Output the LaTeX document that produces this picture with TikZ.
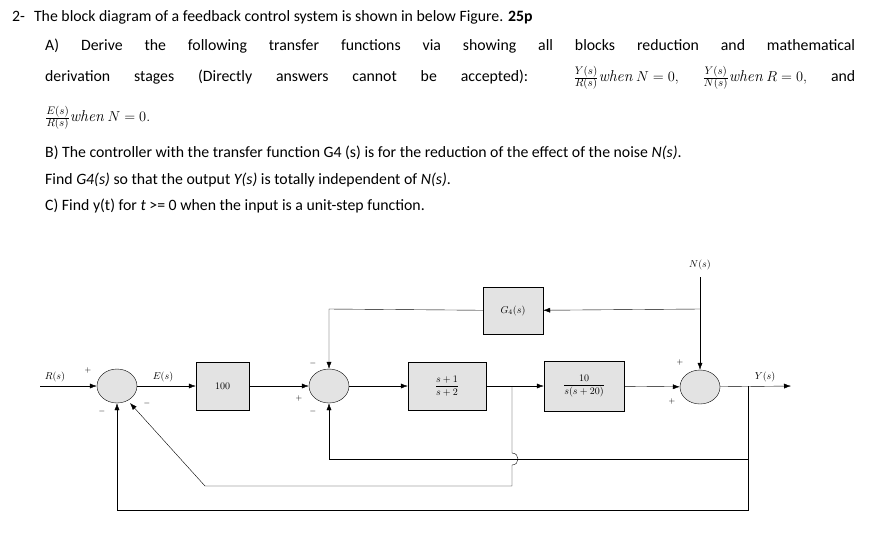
\documentclass[tikz,border=0pt]{standalone}
\usepackage{fontspec}
\setmainfont{Carlito}
\usetikzlibrary{arrows.meta,shapes.geometric}
\newcommand{\whn}{{\fontfamily{lmr}\selectfont\itshape when}}
\begin{document}
\begin{tikzpicture}[x=1pt,y=-1pt,
 blk/.style={draw,fill=gray!22,minimum width=#1,minimum height=48pt,inner sep=0pt},
 sum/.style={draw,ellipse,fill=gray!22,minimum width=40pt,minimum height=34pt,inner sep=0pt},
 lab/.style={font=\fontfamily{lmr}\selectfont\itshape\normalsize},
 sg/.style={font=\fontfamily{lmr}\selectfont\footnotesize},
 arr/.style={-{Latex[length=7pt,width=5pt]}},
 txt/.style={anchor=west,inner sep=0pt,font=\fontsize{15.8}{18}\selectfont}]
\useasboundingbox (0,0) rectangle (877,544);
% text
\node[txt] (t1) at (12,17) {2-\hspace{9pt}The block diagram of a feedback control system is shown in below Figure. \textbf{25p}};
\node[txt] (t2) at (45,46) {\makebox[810pt][s]{A) Derive the following transfer functions via showing all blocks reduction and mathematical}};
\node[txt] (t3) at (45,78) {\makebox[810pt][s]{derivation stages (Directly answers cannot be accepted): \mbox{$\frac{Y(s)}{R(s)}$\whn\ $N=0,$} \mbox{$\frac{Y(s)}{N(s)}$\whn\ $R=0,$} and}};
\node[txt] (t4) at (45,118) {\mbox{$\frac{E(s)}{R(s)}$\whn\ $N=0.$}};
\node[txt] (t5) at (45,153) {B) The controller with the transfer function G4 (s) is for the reduction of the effect of the noise \textit{N(s)}.};
\node[txt] (t6) at (45,180) {Find \textit{G4(s)} so that the output \textit{Y(s)} is totally independent of \textit{N(s)}.};
\node[txt] (t7) at (45,206) {C) Find y(t) for \textit{t} >= 0 when the input is a unit-step function.};
% diagram
\node[sum] (s1) at (117,386) {};
\node[sum] (s2) at (329,386) {};
\node[sum] (s3) at (700,387) {};
\node[blk=53pt] (b1) at (222.5,386) {\fontfamily{lmr}\selectfont 100};
\node[blk=78pt] (b2) at (447,386) {\fontfamily{lmr}\selectfont$\displaystyle\frac{s+1}{s+2}$};
\node[blk=80pt,minimum height=50pt] (b3) at (584,386) {\fontfamily{lmr}\selectfont$\displaystyle\frac{10}{s(s+20)}$};
\node[blk=60pt,minimum height=47pt] (g4) at (513,310.5) {\fontfamily{lmr}\selectfont$G_4(s)$};
\coordinate (rin) at (40,386);
\coordinate (yout) at (791,386);
\coordinate (nin) at (700,277);
\coordinate (nb) at (700,309);
\coordinate (p1) at (512,386);
\coordinate (p2) at (748,386);
\coordinate (d1) at (130,403);
\node[lab] (R) at (55,377) {$R(s)$};
\node[lab] (E) at (163,377) {$E(s)$};
\node[lab] (N) at (700,265) {$N(s)$};
\node[lab] (Y) at (765,377) {$Y(s)$};
\draw[arr] (rin) -- (s1);
\draw[arr] (s1) -- (b1);
\draw[arr] (b1) -- (s2);
\draw[arr] (s2) -- (b2);
\draw[arr] (b2) -- (b3);
\draw[arr] (b3) -- (s3);
\draw[arr] (s3) -- (yout);
\draw[arr] (nin) -- (s3);
\draw[arr] (nb) -- (g4);
\draw[arr] (g4) -- (329,309) -- (s2);
\draw[arr] (p2) -- (748,459) -- (329,459) -- (s2);
\draw[arr] (p1) -- (512,453) .. controls (520,453) and (520,465) .. (512,465) -- (512,486) -- (205,486) -- (d1);
\draw[arr] (p2) -- (748,510) -- (117,510) -- (s1);
\node[sg] at (88,370) {+};
\node[sg] at (102,411) {$-$};
\node[sg] at (147,403) {$-$};
\node[sg] at (313,363) {$-$};
\node[sg] at (299,398) {+};
\node[sg] at (313,411) {$-$};
\node[sg] at (680,362) {+};
\node[sg] at (672,401) {+};
\end{tikzpicture}
\end{document}
